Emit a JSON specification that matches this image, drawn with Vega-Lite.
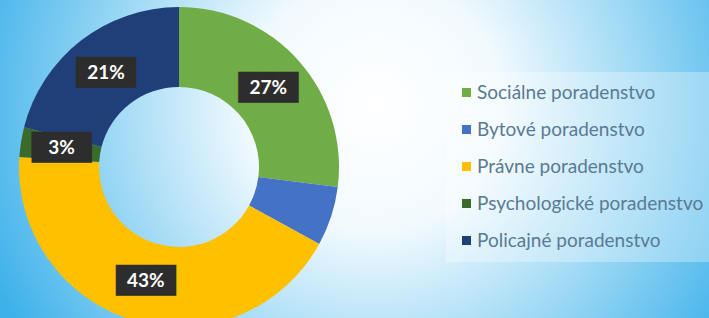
{
  "$schema": "https://vega.github.io/schema/vega-lite/v6.json",
  "width": 358,
  "height": 318,
  "autosize": {"type": "none"},
  "padding": {"left": 0, "top": 0, "right": 351, "bottom": 0},
  "background": "#3db1ea",
  "config": {"view": {"stroke": null}},
  "datasets": {
    "podiely": [
      {"kategoria": "Sociálne poradenstvo", "podiel": 0.27, "poradie": 1},
      {"kategoria": "Bytové poradenstvo", "podiel": 0.06, "poradie": 2},
      {"kategoria": "Právne poradenstvo", "podiel": 0.43, "poradie": 3},
      {"kategoria": "Psychologické poradenstvo", "podiel": 0.03, "poradie": 4},
      {"kategoria": "Policajné poradenstvo", "podiel": 0.21, "poradie": 5}
    ],
    "pozadie": [{"vrstva": "pozadie"}]
  },
  "layer": [
    {
      "data": {"name": "pozadie"},
      "mark": {
        "type": "arc",
        "outerRadius": 700,
        "innerRadius": 0,
        "theta": 0,
        "theta2": 6.2832,
        "yOffset": 8,
        "fill": {
          "gradient": "radial",
          "x1": 0.64, "y1": 0.456, "r1": 0,
          "x2": 0.64, "y2": 0.456, "r2": 0.3,
          "stops": [
            {"offset": 0, "color": "#ffffff"},
            {"offset": 0.3, "color": "#f2fafe"},
            {"offset": 0.6, "color": "#a6dcf6"},
            {"offset": 1, "color": "#3db1ea"}
          ]
        }
      },
      "encoding": {}
    },
    {
      "data": {"name": "podiely"},
      "mark": {"type": "arc", "outerRadius": 160, "innerRadius": 80, "yOffset": 8},
      "encoding": {
        "theta": {"field": "podiel", "type": "quantitative", "stack": true},
        "order": {"field": "poradie", "type": "quantitative"},
        "color": {
          "field": "kategoria",
          "type": "nominal",
          "scale": {
            "domain": ["Sociálne poradenstvo", "Bytové poradenstvo", "Právne poradenstvo", "Psychologické poradenstvo", "Policajné poradenstvo"],
            "range": ["#70ad47", "#4472c4", "#ffc000", "#3b6b2a", "#203f78"]
          },
          "legend": {
            "orient": "none",
            "legendX": 446,
            "legendY": 72,
            "title": null,
            "symbolType": "square",
            "symbolSize": 81,
            "symbolStrokeWidth": 0,
            "labelFont": "Lato",
            "labelFontSize": 19,
            "labelColor": "#5a7a93",
            "labelOffset": 1,
            "labelLimit": 400,
            "rowPadding": 17,
            "padding": 11,
            "fillColor": "rgba(255,255,255,0.3)"
          }
        }
      }
    },
    {
      "data": {"name": "podiely"},
      "mark": {"type": "text", "radius": 119, "yOffset": 8, "font": "DejaVu Sans", "fontSize": 26, "fill": "#2d2d2d", "baseline": "middle", "align": "center", "text": "███"},
      "encoding": {
        "theta": {"field": "podiel", "type": "quantitative", "stack": true},
        "order": {"field": "poradie", "type": "quantitative"},
        "opacity": {"condition": {"test": "datum.kategoria === 'Bytové poradenstvo'", "value": 0}, "value": 1}
      }
    },
    {
      "data": {"name": "podiely"},
      "mark": {"type": "text", "radius": 119, "yOffset": 8, "font": "Lato", "fontSize": 19, "fontWeight": "bold", "fill": "#ffffff", "baseline": "middle", "align": "center"},
      "encoding": {
        "theta": {"field": "podiel", "type": "quantitative", "stack": true},
        "order": {"field": "poradie", "type": "quantitative"},
        "text": {"field": "podiel", "type": "quantitative", "format": ".0%"},
        "opacity": {"condition": {"test": "datum.kategoria === 'Bytové poradenstvo'", "value": 0}, "value": 1}
      }
    }
  ]
}
